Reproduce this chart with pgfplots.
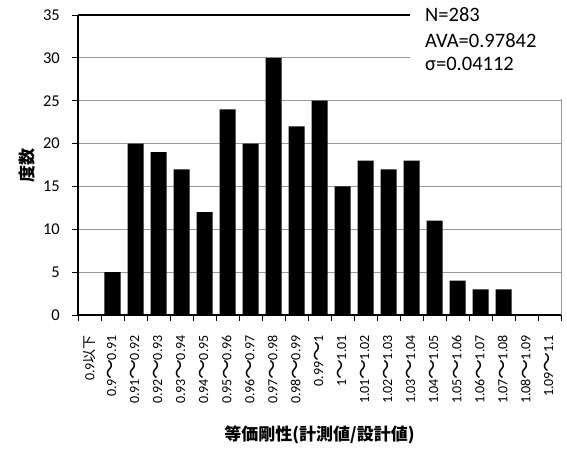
\documentclass[border=0pt]{standalone}
\usepackage{pgfplots}
\pgfplotsset{compat=1.18}
\usepackage{fontspec}
\setmainfont{Carlito}
\newfontfamily\cjk{Noto Sans CJK JP}
\newcommand{\til}{\hspace{-0.5pt}\raisebox{-1.6pt}{\cjk\fontsize{20}{20}\selectfont ～}\hspace{-0.5pt}}

\begin{document}
\begin{tikzpicture}
\useasboundingbox (-78pt,-133pt) rectangle (489pt,315pt);
\begin{axis}[
    scale only axis,
    width=483pt, height=300pt,
    ymin=0, ymax=35,
    ytick={0,5,...,35},
    xmin=-0.5, xmax=20.5,
    xtick={0,...,20},
    minor xtick={-0.5,0.5,...,20.5},
    major x tick style={draw=none},
    minor tick length=6pt,
    major tick length=6pt,
    tick align=outside,
    tick style={black, line width=0.8pt},
    axis x line*=bottom,
    axis y line*=left,
    axis line style={black, line width=2pt, -},
    ymajorgrids,
    grid style={gray!80, line width=0.9pt},
    /pgf/number format/assume math mode=true,
    yticklabel style={font=\fontsize{16.5}{19}\selectfont, anchor=east, inner sep=0pt, xshift=-12pt},
    xticklabel style={font=\fontsize{14}{15}\selectfont, yshift=-14pt, rotate=90, anchor=east, inner sep=0pt},
    xticklabels={0.9{\cjk 以下}, 0.9\til0.91, 0.91\til0.92, 0.92\til0.93, 0.93\til0.94,
      0.94\til0.95, 0.95\til0.96, 0.96\til0.97, 0.97\til0.98, 0.98\til0.99, 0.99\til1,
      1\til1.01, 1.01\til1.02, 1.02\til1.03, 1.03\til1.04, 1.04\til1.05, 1.05\til1.06,
      1.06\til1.07, 1.07\til1.08, 1.08\til1.09, 1.09\til1.1},
    xlabel={\cjk\bfseries 等価剛性(計測値/設計値)},
    ylabel={\cjk\bfseries 度数},
    every axis x label/.style={at={(axis description cs:0.5,0)}, yshift=-120pt, anchor=center, font=\fontsize{17}{20}\selectfont},
    every axis y label/.style={at={(axis description cs:0,0.5)}, xshift=-51pt, rotate=90, anchor=center, font=\fontsize{17}{20}\selectfont},
    clip=false,
]
\addplot[ybar, bar width=16pt, fill=black, draw=none] coordinates {
    (0,0) (1,5) (2,20) (3,19) (4,17) (5,12) (6,24) (7,20) (8,30) (9,22)
    (10,25) (11,15) (12,18) (13,17) (14,18) (15,11) (16,4) (17,3) (18,3)
    (19,0) (20,0)
};
\end{axis}
% top border and right border
\draw[black, line width=1.2pt] (0,300pt) -- (483pt,300pt);
\draw[gray!80, line width=0.9pt] (483pt,0) -- (483pt,300pt);
% statistics box
\fill[white] (332pt,216pt) rectangle (495pt,320pt);
\node[anchor=base west, inner sep=0pt, font=\fontsize{20.5}{24}\selectfont] at (347pt,294pt) {N=283};
\node[anchor=base west, inner sep=0pt, font=\fontsize{20.5}{24}\selectfont] at (347pt,268pt) {AVA=0.97842};
\node[anchor=base west, inner sep=0pt, font=\fontsize{20.5}{24}\selectfont] at (347pt,245pt) {σ=0.04112};
\end{tikzpicture}
\end{document}
